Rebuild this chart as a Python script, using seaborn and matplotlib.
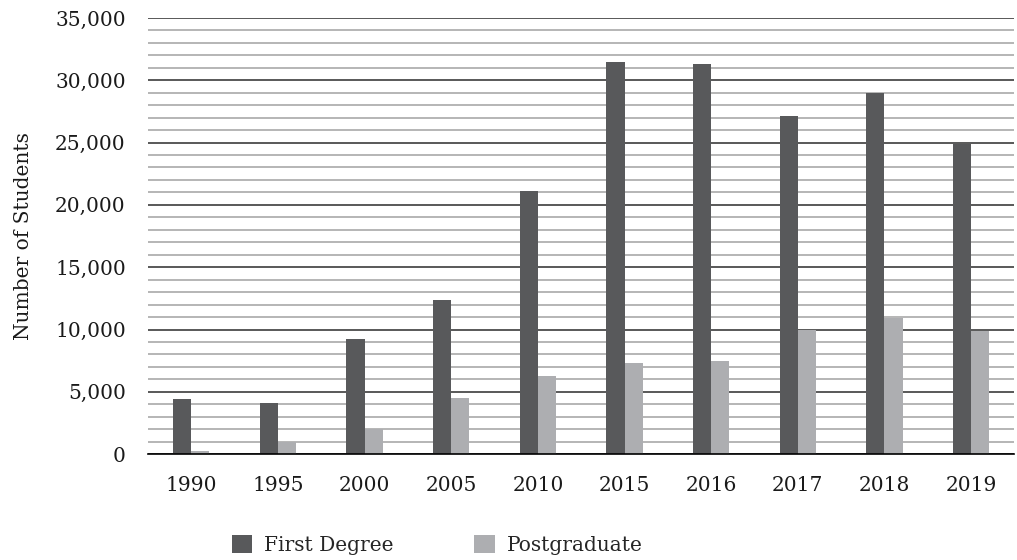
import matplotlib
matplotlib.use("Agg")
import matplotlib.pyplot as plt
import seaborn as sns
import pandas as pd
from matplotlib.ticker import MultipleLocator, FuncFormatter

# dados
anos = ["1990", "1995", "2000", "2005", "2010", "2015", "2016", "2017", "2018", "2019"]
first_degree = [4400, 4100, 9200, 12400, 21100, 31500, 31300, 27100, 29000, 24900]
postgraduate = [250, 950, 2000, 4500, 6300, 7300, 7500, 10000, 10900, 9900]
series = ["First Degree", "Postgraduate"]
cores = ["#58595b", "#adaeb1"]

dados = pd.DataFrame({
    "ano": anos * 2,
    "valor": first_degree + postgraduate,
    "serie": [series[0]] * len(anos) + [series[1]] * len(anos),
})

sns.set_style("white")
plt.rcParams["font.family"] = ["DejaVu Serif"]
fs = 14.5

fig = plt.figure(figsize=(10.17, 5.6), dpi=100)
ax = fig.add_axes([0.1455, 0.189, 0.852, 0.779])

sns.barplot(data=dados, x="ano", y="valor", hue="serie", palette=cores,
            width=0.42, saturation=1, linewidth=0, ax=ax, zorder=3)

ax.set_ylim(0, 35000)
ax.set_xlim(-0.5, len(anos) - 0.5)
ax.yaxis.set_major_locator(MultipleLocator(5000))
ax.yaxis.set_minor_locator(MultipleLocator(1000))
ax.yaxis.set_major_formatter(FuncFormatter(lambda v, p: f"{int(v):,}"))
ax.grid(axis="y", which="major", color="#2b2b2b", linewidth=1.1, zorder=0)
ax.grid(axis="y", which="minor", color="#a9a9a9", linewidth=1.2, zorder=0)
ax.set_axisbelow(True)

for s in ["top", "right", "left"]:
    ax.spines[s].set_visible(False)
ax.spines["bottom"].set_color("black")
ax.spines["bottom"].set_linewidth(1.2)
ax.spines["bottom"].set_zorder(4)

ax.tick_params(axis="both", which="both", length=0, labelsize=fs, colors="#1a1a1a")
ax.tick_params(axis="x", pad=16)
ax.tick_params(axis="y", pad=16)
ax.set_xlabel("")
ax.set_ylabel("Number of Students", fontsize=fs, color="#1a1a1a", labelpad=16)

ax.legend_.remove()
handles, labels = ax.get_legend_handles_labels()
fig.legend(handles, labels, loc="center", bbox_to_anchor=(0.43, 0.027), ncol=2,
           frameon=False, fontsize=fs, handlelength=1.0, handleheight=1.0,
           columnspacing=4.0, handletextpad=0.6)

fig.savefig("out.png", dpi=100)
